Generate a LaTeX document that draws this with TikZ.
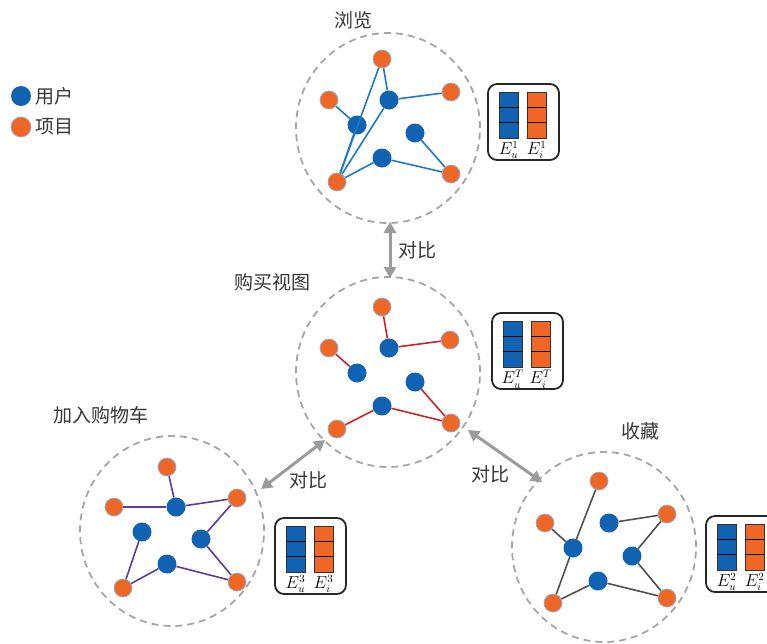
\documentclass[tikz,border=0pt]{standalone}
\usepackage{fontspec}
\newfontfamily\cjk{Noto Sans CJK SC}
\usetikzlibrary{shapes.geometric,arrows.meta,calc}
\definecolor{ublue}{RGB}{16,98,178}
\definecolor{iorange}{RGB}{240,102,36}
\definecolor{ring}{RGB}{150,175,205}
\definecolor{dgray}{RGB}{165,165,165}
\definecolor{agray}{RGB}{155,155,155}
\definecolor{tgray}{RGB}{55,55,55}
\definecolor{eblue}{RGB}{30,120,200}
\definecolor{ered}{RGB}{205,35,40}
\definecolor{epurple}{RGB}{90,60,160}
\definecolor{egray}{RGB}{80,80,80}
\tikzset{
  user/.style={circle, fill=ublue, minimum size=19pt, inner sep=0pt},
  item/.style={circle, fill=iorange, draw=ring, line width=0.8pt, minimum size=18pt, inner sep=0pt},
  view/.style={ellipse, draw=dgray, line width=1.8pt, dash pattern=on 7pt off 5pt, minimum width=184pt, minimum height=190pt, inner sep=0pt},
  cmp/.style={draw=agray, line width=3pt, {Triangle[length=11pt,width=12pt]}-{Triangle[length=11pt,width=12pt]}},
  lbl/.style={font=\cjk\fontsize{19}{19}\selectfont, text=tgray, inner sep=0pt},
  eb/.style={draw=eblue, line width=1.6pt},
  er/.style={draw=ered, line width=1.6pt},
  ep/.style={draw=epurple, line width=1.6pt},
  eg/.style={draw=egray, line width=1.6pt},
  boxframe/.style={draw=black!85, line width=1.8pt, rounded corners=9pt},
  bar/.style={draw=black!80, line width=0.8pt},
  div/.style={draw=black, line width=1.4pt},
  emb/.style={font=\fontsize{16}{16}\selectfont, inner sep=0pt}
}
\newcommand\embbox[3]{%
  \begin{scope}[shift={#3}]
    \draw[boxframe] (0,0) rectangle (71,76);
    \draw[bar, fill=ublue] (11,8) rectangle (30,54);
    \draw[bar, fill=iorange] (39,8) rectangle (58,54);
    \foreach \xa/\xb in {11/30,39/58}{
      \draw[div] (\xa,23.3) -- (\xb,23.3);
      \draw[div] (\xa,38.7) -- (\xb,38.7);
    }
    \node[emb] (#1lu) at (20.5,66) {$E_u^{#2}$};
    \node[emb] (#1li) at (48.5,66) {$E_i^{#2}$};
  \end{scope}}
\begin{document}
\begin{tikzpicture}[x=1pt,y=-1pt]
\useasboundingbox (0,0) rectangle (767,643);

% legend
\node[user, minimum size=20pt] (lu) at (21,96) {};
\node[lbl, anchor=west] (lut) at (35,96) {用户};
\node[item, minimum size=20pt] (li) at (21,127) {};
\node[lbl, anchor=west] (lit) at (35,127) {项目};

% view circles
\node[view] (c1) at (388,128) {};
\node[view] (c2) at (388,372) {};
\node[view] (c3) at (172,531) {};
\node[view] (c4) at (604,547) {};

% titles
\node[lbl] (t1) at (353,20) {浏览};
\node[lbl] (t2) at (272,282) {购买视图};
\node[lbl] (t3) at (101,415) {加入购物车};
\node[lbl] (t4) at (640,431) {收藏};

% contrast arrows
\coordinate (a1s) at (390,222);
\coordinate (a1e) at (390,278);
\draw[cmp] (a1s) -- (a1e);
\node[lbl] (k1) at (417,250) {对比};
\coordinate (a2s) at (261,489);
\coordinate (a2e) at (325,440);
\draw[cmp] (a2s) -- (a2e);
\node[lbl] (k2) at (308,480) {对比};
\coordinate (a3s) at (468,430);
\coordinate (a3e) at (542,482);
\draw[cmp] (a3s) -- (a3e);
\node[lbl] (k3) at (490,474) {对比};

% cluster 1 (browse)
\node[item] (p1) at (382,59) {};
\node[item] (p2) at (329,100) {};
\node[user] (p3) at (389,100) {};
\node[item] (p4) at (451,92) {};
\node[user] (p5) at (357,125) {};
\node[user] (p6) at (415,133) {};
\node[user] (p7) at (382,158) {};
\node[item] (p8) at (337,182) {};
\node[item] (p9) at (451,174) {};
\draw[eb] (p1) -- (p3);
\draw[eb] (p1) -- (p8);
\draw[eb] (p2) -- (p5);
\draw[eb] (p3) -- (p4);
\draw[eb] (p3) -- (p8);
\draw[eb] (p5) -- (p8);
\draw[eb] (p7) -- (p8);
\draw[eb] (p7) -- (p9);
\draw[eb] (p6) -- (p9);

% cluster 2 (purchase)
\node[item] (q1) at (382,307) {};
\node[user] (q3) at (389,348) {};
\node[item] (q4) at (450,340) {};
\node[item] (q2) at (329,348) {};
\node[user] (q5) at (357,373) {};
\node[user] (q6) at (415,382) {};
\node[user] (q7) at (382,406) {};
\node[item] (q8) at (337,429) {};
\node[item] (q9) at (451,423) {};
\draw[er] (q1) -- (q3);
\draw[er] (q3) -- (q4);
\draw[er] (q2) -- (q5);
\draw[er] (q7) -- (q8);
\draw[er] (q7) -- (q9);
\draw[er] (q6) -- (q9);

% cluster 3 (cart)
\node[item] (r1) at (167,467) {};
\node[item] (r2) at (114,507) {};
\node[user] (r3) at (176,507) {};
\node[item] (r4) at (237,498) {};
\node[user] (r5) at (142,532) {};
\node[user] (r6) at (201,539) {};
\node[user] (r7) at (167,564) {};
\node[item] (r8) at (123,588) {};
\node[item] (r9) at (237,582) {};
\draw[ep] (r1) -- (r3);
\draw[ep] (r2) -- (r3);
\draw[ep] (r3) -- (r4);
\draw[ep] (r4) -- (r6);
\draw[ep] (r6) -- (r9);
\draw[ep] (r7) -- (r9);
\draw[ep] (r7) -- (r8);
\draw[ep] (r5) -- (r8);

% cluster 4 (favorite)
\node[item] (s1) at (599,481) {};
\node[item] (s2) at (545,523) {};
\node[user] (s3) at (609,523) {};
\node[item] (s4) at (667,514) {};
\node[user] (s5) at (573,548) {};
\node[user] (s6) at (632,556) {};
\node[user] (s7) at (598,581) {};
\node[item] (s8) at (553,603) {};
\node[item] (s9) at (667,598) {};
\draw[eg] (s1) -- (s5);
\draw[eg] (s2) -- (s5);
\draw[eg] (s5) -- (s8);
\draw[eg] (s8) -- (s7);
\draw[eg] (s7) -- (s9);
\draw[eg] (s9) -- (s6);
\draw[eg] (s6) -- (s4);
\draw[eg] (s4) -- (s3);

% embedding boxes
\embbox{b1}{1}{(488,84)}
\embbox{b2}{T}{(492,313)}
\embbox{b3}{3}{(275,518)}
\embbox{b4}{2}{(706,516)}
\end{tikzpicture}
\end{document}
